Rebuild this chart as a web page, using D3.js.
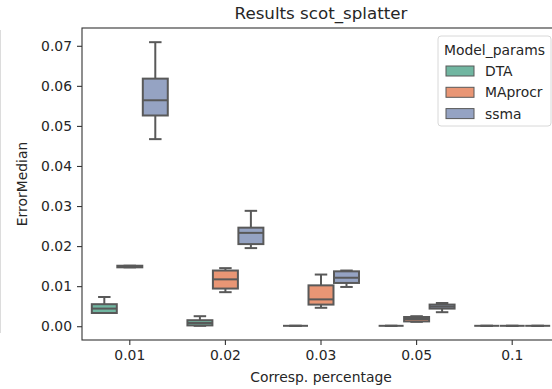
<!DOCTYPE html>
<html>
<head>
<meta charset="utf-8">
<script src="https://cdn.jsdelivr.net/npm/d3@7"></script>
<style>
  body { margin: 0; background: #fff; }
  text { font-family: "DejaVu Sans", sans-serif; fill: #262626; }
</style>
</head>
<body>
<svg id="chart" width="552" height="389"></svg>
<script>
// categories on the x axis and the hue groups
var percentages = ['0.01', '0.02', '0.03', '0.05', '0.1'];
var models = ['DTA', 'MAprocr', 'ssma'];
var modelColors = ['#71b6a1', '#e99675', '#95a3c3'];
var yTicks = [0.00, 0.01, 0.02, 0.03, 0.04, 0.05, 0.06, 0.07];

// box stats per model, one entry per percentage: [whiskerLow, q1, median, q3, whiskerHigh]
var dtaStats = [
    [0.0033, 0.0033, 0.0044, 0.0055, 0.0073],
    [0.0001, 0.0002, 0.0008, 0.0015, 0.0025],
    [0.0001, 0.0001, 0.0001, 0.0001, 0.0001],
    [0.0001, 0.0001, 0.0001, 0.0001, 0.0001],
    [0.0001, 0.0001, 0.0001, 0.0001, 0.0001]
];
var maprocrStats = [
    [0.0147, 0.0147, 0.0149, 0.0151, 0.0151],
    [0.0085, 0.0094, 0.0117, 0.0139, 0.0145],
    [0.0046, 0.0054, 0.0067, 0.0102, 0.0129],
    [0.0011, 0.0012, 0.0018, 0.0023, 0.0025],
    [0.0001, 0.0001, 0.0001, 0.0001, 0.0001]
];
var ssmaStats = [
    [0.0467, 0.0526, 0.0564, 0.0618, 0.0709],
    [0.0195, 0.0205, 0.0233, 0.0246, 0.0288],
    [0.0098, 0.0108, 0.0121, 0.0137, 0.0139],
    [0.0035, 0.0044, 0.0049, 0.0054, 0.0058],
    [0.0001, 0.0001, 0.0001, 0.0001, 0.0001]
];
var allStats = [dtaStats, maprocrStats, ssmaStats];

var svg = d3.select('#chart');
var margin = {top: 28, right: -8, bottom: 49, left: 82};
var w = +svg.attr('width'), h = +svg.attr('height');
var plotRight = w - margin.right;
var plotBottom = h - margin.bottom;
var lineGray = '#595959';

// notebook output border on the far left
svg.append('line')
    .attr('x1', 0.5).attr('x2', 0.5)
    .attr('y1', 30).attr('y2', 333)
    .style('stroke', '#dcdcdc').style('stroke-width', 1);

var xScale = d3.scaleBand()
    .domain(percentages)
    .range([margin.left, plotRight]);

var hueScale = d3.scaleBand()
    .domain(models)
    .range([0, xScale.bandwidth() * 0.8]);

var yScale = d3.scaleLinear()
    .domain([-0.00344, 0.07444])
    .range([plotBottom, margin.top]);

var xAxis = d3.axisBottom(xScale).tickSize(5).tickPadding(5);
var yAxis = d3.axisLeft(yScale).tickValues(yTicks).tickFormat(d3.format('.2f')).tickSize(5).tickPadding(5);

var gx = svg.append('g')
    .attr('transform', 'translate(0,' + plotBottom + ')')
    .call(xAxis);
var gy = svg.append('g')
    .attr('transform', 'translate(' + margin.left + ',0)')
    .call(yAxis);

[gx, gy].forEach(function (g) {
    g.select('.domain').remove();
    g.selectAll('line').style('stroke', '#333').style('stroke-width', 1.1);
    g.selectAll('text').style('font-size', '13.9px').style('fill', '#262626');
});

// boxes
var boxW = hueScale.bandwidth() * 0.98;
var capW = boxW / 2;
var boxes = svg.append('g').attr('id', 'boxes');
allStats.forEach(function (stats, mi) {
    stats.forEach(function (s, pi) {
        var cx = xScale(percentages[pi]) + xScale.bandwidth() * 0.1 + hueScale(models[mi]) + hueScale.bandwidth() / 2;
        var g = boxes.append('g');
        var yq1 = yScale(s[1]), yq3 = yScale(s[3]);
        // whiskers
        g.append('line').attr('x1', cx).attr('x2', cx).attr('y1', yScale(s[0])).attr('y2', yq1);
        g.append('line').attr('x1', cx).attr('x2', cx).attr('y1', yq3).attr('y2', yScale(s[4]));
        g.append('line').attr('x1', cx - capW / 2).attr('x2', cx + capW / 2).attr('y1', yScale(s[0])).attr('y2', yScale(s[0]));
        g.append('line').attr('x1', cx - capW / 2).attr('x2', cx + capW / 2).attr('y1', yScale(s[4])).attr('y2', yScale(s[4]));
        g.append('rect')
            .attr('x', cx - boxW / 2)
            .attr('y', yq3)
            .attr('width', boxW)
            .attr('height', Math.max(yq1 - yq3, 0))
            .style('fill', modelColors[mi]);
        g.append('line').attr('x1', cx - boxW / 2).attr('x2', cx + boxW / 2).attr('y1', yScale(s[2])).attr('y2', yScale(s[2]));
        g.selectAll('line, rect').style('stroke', lineGray).style('stroke-width', 2);
    });
});

// frame
svg.append('rect')
    .attr('x', margin.left).attr('y', margin.top)
    .attr('width', plotRight - margin.left).attr('height', plotBottom - margin.top)
    .style('fill', 'none').style('stroke', '#333').style('stroke-width', 1.1);

// title and axis labels
svg.append('text')
    .attr('x', (margin.left + plotRight) / 2).attr('y', 19)
    .attr('text-anchor', 'middle')
    .style('font-size', '16.7px')
    .text('Results scot_splatter');

svg.append('text')
    .attr('x', (margin.left + plotRight) / 2).attr('y', 382)
    .attr('text-anchor', 'middle')
    .style('font-size', '13.9px')
    .text('Corresp. percentage');

svg.append('text')
    .attr('transform', 'translate(27,' + ((margin.top + plotBottom) / 2) + ') rotate(-90)')
    .attr('text-anchor', 'middle')
    .style('font-size', '13.9px')
    .text('ErrorMedian');

// legend
var legend = svg.append('g').attr('transform', 'translate(438,36)');
legend.append('rect')
    .attr('width', 113).attr('height', 90).attr('rx', 3)
    .style('fill', 'rgba(255,255,255,0.8)').style('stroke', '#d8d8d8').style('stroke-width', 1);
legend.append('text')
    .attr('x', 56.5).attr('y', 19)
    .attr('text-anchor', 'middle')
    .style('font-size', '13.9px')
    .text('Model_params');
models.forEach(function (m, i) {
    var yy = 35 + i * 21.3;
    legend.append('rect')
        .attr('x', 8).attr('y', yy - 5).attr('width', 28).attr('height', 10)
        .style('fill', modelColors[i]).style('stroke', lineGray).style('stroke-width', 1);
    legend.append('text')
        .attr('x', 47).attr('y', yy + 5)
        .style('font-size', '13.9px')
        .text(m);
});
</script>
</body>
</html>
